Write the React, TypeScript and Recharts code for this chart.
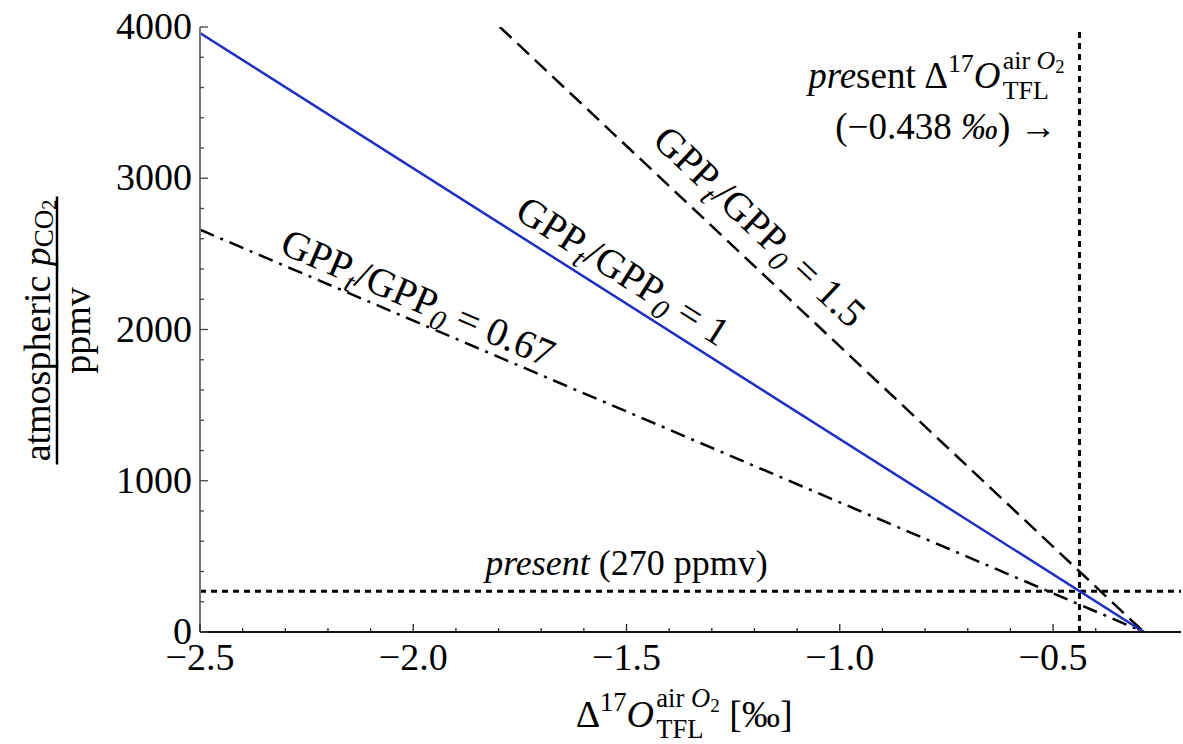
import React from "react";
import { LineChart, Line, XAxis, YAxis, ReferenceLine, ReferenceDot } from "recharts";

const FONT = "'Liberation Serif', 'DejaVu Serif', serif";

const xDomain = [-2.5, -0.2];
const yDomain = [0, 4000];
const xMajorTicks = [-2.5, -2.0, -1.5, -1.0, -0.5];
const xMinorTicks = [-2.4, -2.3, -2.2, -2.1, -1.9, -1.8, -1.7, -1.6, -1.4, -1.3, -1.2, -1.1, -0.9, -0.8, -0.7, -0.6, -0.4, -0.3];
const yMajorTicks = [0, 1000, 2000, 3000, 4000];
const yMinorTicks = [200, 400, 600, 800, 1200, 1400, 1600, 1800, 2200, 2400, 2600, 2800, 3200, 3400, 3600, 3800];

// end points of the three GPP_t/GPP_0 lines
const gpp1X = [-2.5, -0.287];
const gpp1Y = [3960, 0];
const gpp15X = [-1.797, -0.287];
const gpp15Y = [4000, 0];
const gpp067X = [-2.5, -0.287];
const gpp067Y = [2660, 0];

const presentCO2 = 270;
const presentD17O = -0.438;

// rotated labels sitting on the lines (centre of the text)
const gppLabelValue = ["1.5", "1", "0.67"];
const gppLabelX = [-1.19, -1.51, -1.99];
const gppLabelY = [2675, 2380, 2200];
const gppLabelAngle = [43.2, 32.4, 23.2];

const xTicks = [...xMajorTicks, ...xMinorTicks].sort((a, b) => a - b);
const yTicks = [...yMajorTicks, ...yMinorTicks].sort((a, b) => a - b);

const toPoints = (xs: number[], ys: number[]) => xs.map((x, i) => ({ x, y: ys[i] }));

// Times advance widths (em) for the few glyphs we need to stack
const W: Record<string, number> = {
  a: 0.444, i: 0.278, r: 0.333, " ": 0.25, O: 0.722, "2": 0.5, T: 0.611, F: 0.556, L: 0.611,
  "Δ": 0.612, "1": 0.5, "7": 0.5, p: 0.5, e: 0.444, s: 0.389, n: 0.5, t: 0.278,
};
const tw = (s: string, f: number) => s.split("").reduce((acc, c) => acc + (W[c] ?? 0.5), 0) * f;

// Δ^17 O^{air O2}_{TFL}, starting at x, baseline y
function d17oParts(x: number, y: number, f: number) {
  const sf = f * 0.7;
  const x1 = x + tw("Δ", f) + 1;
  const x2 = x1 + tw("17", sf);
  const x3 = x2 + tw("O", f) + f * 0.06;
  const supW = tw("air O", sf) + tw("2", f * 0.5);
  const subW = tw("TFL", sf);
  const width = x3 - x + Math.max(supW, subW);
  const nodes = (
    <g fontFamily={FONT} fill="#000">
      <text x={x} y={y} fontSize={f}>Δ</text>
      <text x={x1} y={y - f * 0.42} fontSize={sf}>17</text>
      <text x={x2} y={y} fontSize={f} fontStyle="italic">O</text>
      <text x={x3} y={y - f * 0.52} fontSize={sf}>
        air <tspan fontStyle="italic">O</tspan>
        <tspan fontSize={f * 0.5} dy={f * 0.12}>2</tspan>
      </text>
      <text x={x3} y={y + f * 0.3} fontSize={sf}>TFL</text>
    </g>
  );
  return { width, nodes };
}

const BottomTick = (p: any) => {
  const { x, y, payload } = p;
  const major = xMajorTicks.includes(payload.value);
  return (
    <g>
      <line x1={x} x2={x} y1={y} y2={y - (major ? 8 : 4)} stroke="#222" strokeWidth={1.3} />
      {major && (
        <text x={x} y={y + 38} textAnchor="middle" fontSize={38} fontFamily={FONT} fill="#000">
          {payload.value.toFixed(1).replace("-", "−")}
        </text>
      )}
    </g>
  );
};

const TopTick = (p: any) => {
  const { x, y, payload } = p;
  const major = xMajorTicks.includes(payload.value);
  return <line x1={x} x2={x} y1={y} y2={y + (major ? 8 : 4)} stroke="#444" strokeWidth={1.3} />;
};

const LeftTick = (p: any) => {
  const { x, y, payload } = p;
  const major = yMajorTicks.includes(payload.value);
  return (
    <g>
      <line x1={x} x2={x + (major ? 8 : 4)} y1={y} y2={y} stroke="#444" strokeWidth={1.3} />
      {major && (
        <text x={x - 8} y={y + 12} textAnchor="end" fontSize={38} fontFamily={FONT} fill="#000">
          {payload.value}
        </text>
      )}
    </g>
  );
};

const RightTick = (p: any) => {
  const { x, y, payload } = p;
  const major = yMajorTicks.includes(payload.value);
  return <line x1={x} x2={x - (major ? 8 : 4)} y1={y} y2={y} stroke="#222" strokeWidth={1.3} />;
};

const XTitle = (p: any) => {
  const vb = p.viewBox;
  const f = 38;
  const cx = vb.x + vb.width / 2;
  const base = vb.y + 95;
  const tail = " [‰]";
  const probe = d17oParts(0, 0, f);
  const total = probe.width + tw(" [", f) + f * 1.0 + tw("]", f);
  const start = cx - total / 2;
  const parts = d17oParts(start, base, f);
  return (
    <g>
      {parts.nodes}
      <text x={start + parts.width} y={base} fontSize={f} fontFamily={FONT} fill="#000" style={{ whiteSpace: "pre" }}>
        {tail}
      </text>
    </g>
  );
};

const YTitle = (p: any) => {
  const vb = p.viewBox;
  const cy = vb.y + vb.height / 2 + 1;
  return (
    <g transform={`translate(57,${cy}) rotate(-90)`} fontFamily={FONT} fill="#000">
      <text x={0} y={-7} textAnchor="middle" fontSize={38}>
        atmospheric <tspan fontStyle="italic">p</tspan>
        <tspan fontSize={27} dy={3}>CO</tspan>
        <tspan fontSize={20} dy={3}>2</tspan>
      </text>
      <line x1={-134} x2={134} y1={0} y2={0} stroke="#000" strokeWidth={2.5} />
      <text x={0} y={33} textAnchor="middle" fontSize={38}>ppmv</text>
    </g>
  );
};

const gppLabel = (value: string, angle: number) => (p: any) => {
  const { x, y } = p.viewBox;
  const f = 40;
  return (
    <text
      transform={`translate(${x},${y}) rotate(${angle})`}
      x={0}
      y={f * 0.3}
      textAnchor="middle"
      fontSize={f}
      fontFamily={FONT}
      fill="#000"
    >
      GPP<tspan fontStyle="italic" fontSize={f * 0.72} dy={f * 0.22}>t</tspan>
      <tspan dy={-f * 0.22}>/GPP</tspan>
      <tspan fontStyle="italic" fontSize={f * 0.72} dy={f * 0.22}>0</tspan>
      <tspan dy={-f * 0.22}>{` = ${value}`}</tspan>
    </text>
  );
};

const presentCO2Label = (p: any) => {
  const { x, y } = p.viewBox;
  return (
    <text x={x} y={y - 16} textAnchor="middle" fontSize={36} fontFamily={FONT} fill="#000">
      <tspan fontStyle="italic">present</tspan> ({presentCO2} ppmv)
    </text>
  );
};

const presentD17OLabel = (p: any) => {
  const { x, y } = p.viewBox;
  const f = 37;
  const right1 = x - 15;
  const base1 = y + 61;
  const probe = d17oParts(0, 0, f);
  const headW = tw("present ", f);
  const start = right1 - probe.width - headW;
  const parts = d17oParts(start + headW, base1, f);
  return (
    <g>
      <text x={start} y={base1} fontSize={f} fontFamily={FONT} fill="#000">
        <tspan fontStyle="italic">pre</tspan>sent
      </text>
      {parts.nodes}
      <text x={x - 23} y={y + 112} textAnchor="end" fontSize={f} fontFamily={FONT} fill="#000">
        (−{Math.abs(presentD17O).toFixed(3)} <tspan fontStyle="italic">‰</tspan>) →
      </text>
    </g>
  );
};

export default function App() {
  const gpp1 = toPoints(gpp1X, gpp1Y);
  const gpp15 = toPoints(gpp15X, gpp15Y);
  const gpp067 = toPoints(gpp067X, gpp067Y);

  return (
    <div style={{ position: "absolute", left: 0, top: 0, width: 1183, height: 744, background: "#fff" }}>
      <LineChart width={1183} height={744} margin={{ top: 27, right: 2, bottom: 0, left: 0 }}>
        <XAxis
          dataKey="x"
          type="number"
          domain={xDomain}
          ticks={xTicks}
          interval={0}
          allowDataOverflow
          height={112}
          tickSize={0}
          tickMargin={0}
          tickLine={false}
          axisLine={{ stroke: "#111", strokeWidth: 2 }}
          tick={<BottomTick />}
          label={<XTitle />}
        />
        <XAxis
          xAxisId="top"
          orientation="top"
          type="number"
          domain={xDomain}
          ticks={xTicks}
          interval={0}
          allowDataOverflow
          height={0}
          tickSize={0}
          tickMargin={0}
          tickLine={false}
          axisLine={{ stroke: "#777", strokeWidth: 2 }}
          tick={<TopTick />}
        />
        <YAxis
          type="number"
          domain={yDomain}
          ticks={yTicks}
          interval={0}
          allowDataOverflow
          width={200}
          tickSize={0}
          tickMargin={0}
          tickLine={false}
          axisLine={{ stroke: "#777", strokeWidth: 2 }}
          tick={<LeftTick />}
          label={<YTitle />}
        />
        <YAxis
          yAxisId="right"
          orientation="right"
          type="number"
          domain={yDomain}
          ticks={yTicks}
          interval={0}
          allowDataOverflow
          width={0}
          tickSize={0}
          tickMargin={0}
          tickLine={false}
          axisLine={{ stroke: "#111", strokeWidth: 2 }}
          tick={<RightTick />}
        />

        <ReferenceLine y={presentCO2} stroke="#000" strokeWidth={3} strokeDasharray="6 5" />
        <ReferenceLine x={presentD17O} stroke="#000" strokeWidth={3} strokeDasharray="6 5" />

        <Line data={gpp067} dataKey="y" stroke="#000" strokeWidth={2.5} strokeDasharray="15 7 3 7" dot={false} isAnimationActive={false} />
        <Line data={gpp15} dataKey="y" stroke="#000" strokeWidth={2.5} strokeDasharray="16 8" dot={false} isAnimationActive={false} />
        <Line data={gpp1} dataKey="y" stroke="#1f2fc0" strokeWidth={2.5} dot={false} isAnimationActive={false} />

        {gppLabelValue.map((v, i) => (
          <ReferenceDot
            key={v}
            x={gppLabelX[i]}
            y={gppLabelY[i]}
            r={0}
            fill="none"
            stroke="none"
            label={gppLabel(v, gppLabelAngle[i])}
          />
        ))}
        <ReferenceDot x={-1.5} y={presentCO2} r={0} fill="none" stroke="none" label={presentCO2Label} />
        <ReferenceDot x={presentD17O} y={4000} r={0} fill="none" stroke="none" label={presentD17OLabel} />
      </LineChart>
    </div>
  );
}
